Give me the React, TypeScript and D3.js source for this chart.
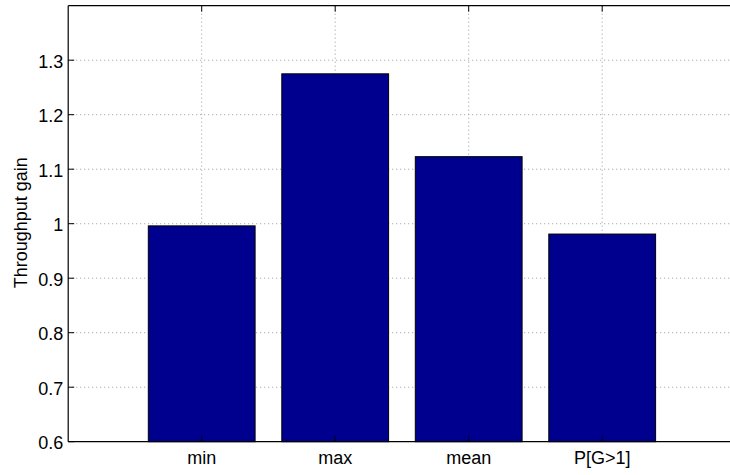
import React from "react";
import * as d3 from "d3";

const categories = ["min", "max", "mean", "P[G>1]"];
const values = [0.996, 1.275, 1.123, 0.981];
const yTicks = [0.6, 0.7, 0.8, 0.9, 1, 1.1, 1.2, 1.3];
const yLabel = "Throughput gain";

export default function App() {
  const W = 730, H = 475;
  const left = 68.2, top = 5.7, bottom = 441.7;
  const x = d3.scaleLinear().domain([0, 5]).range([left, left + 5 * 133.5]);
  const y = d3.scaleLinear().domain([0.6, 1.4]).range([bottom, top]);
  const right = W + 5;
  const font = "'Liberation Sans', Arial, sans-serif";
  const fs = 18;
  const bw = 0.8;
  return (
    <div style={{ position: "absolute", left: 0, top: 0 }}>
      <svg width={W} height={H} style={{ display: "block", background: "#fff" }}>
        <rect x={0} y={0} width={W} height={H} fill="#fff" />
        {/* grid */}
        {yTicks.slice(1).map((t) => (
          <line key={"gy" + t} x1={left} x2={right} y1={y(t)} y2={y(t)} stroke="#999" strokeWidth={1} strokeDasharray="1,3" />
        ))}
        {categories.map((c, i) => (
          <line key={"gx" + c} x1={x(i + 1)} x2={x(i + 1)} y1={top} y2={bottom} stroke="#999" strokeWidth={1} strokeDasharray="1,3" />
        ))}
        {/* bars */}
        {categories.map((c, i) => (
          <rect
            key={"b" + c}
            x={x(i + 1 - bw / 2)}
            y={y(values[i])}
            width={x(i + 1 + bw / 2) - x(i + 1 - bw / 2)}
            height={bottom - y(values[i])}
            fill="#00008F"
            stroke="#000"
            strokeWidth={1}
          />
        ))}
        {/* axes */}
        <line x1={left} x2={right} y1={top} y2={top} stroke="#000" strokeWidth={1.2} />
        <line x1={left} x2={right} y1={bottom} y2={bottom} stroke="#000" strokeWidth={1.2} />
        <line x1={left} x2={left} y1={top} y2={bottom} stroke="#000" strokeWidth={1.2} />
        {yTicks.map((t) => (
          <g key={"yt" + t}>
            <line x1={left} x2={left + 6} y1={y(t)} y2={y(t)} stroke="#000" />
            <text x={left - 5} y={y(t) + 7.5} textAnchor="end" fontFamily={font} fontSize={fs} fill="#000">
              {String(t)}
            </text>
          </g>
        ))}
        {categories.map((c, i) => (
          <g key={"xt" + c}>
            <line x1={x(i + 1)} x2={x(i + 1)} y1={bottom} y2={bottom - 6} stroke="#000" />
            <line x1={x(i + 1)} x2={x(i + 1)} y1={top} y2={top + 6} stroke="#000" />
            <text x={x(i + 1)} y={bottom + 22} textAnchor="middle" fontFamily={font} fontSize={fs} fill="#000">
              {c}
            </text>
          </g>
        ))}
        <text
          transform={`translate(26.5, ${(top + bottom) / 2 - 1}) rotate(-90)`}
          textAnchor="middle"
          fontFamily={font}
          fontSize={fs}
          fill="#000"
        >
          {yLabel}
        </text>
      </svg>
    </div>
  );
}
